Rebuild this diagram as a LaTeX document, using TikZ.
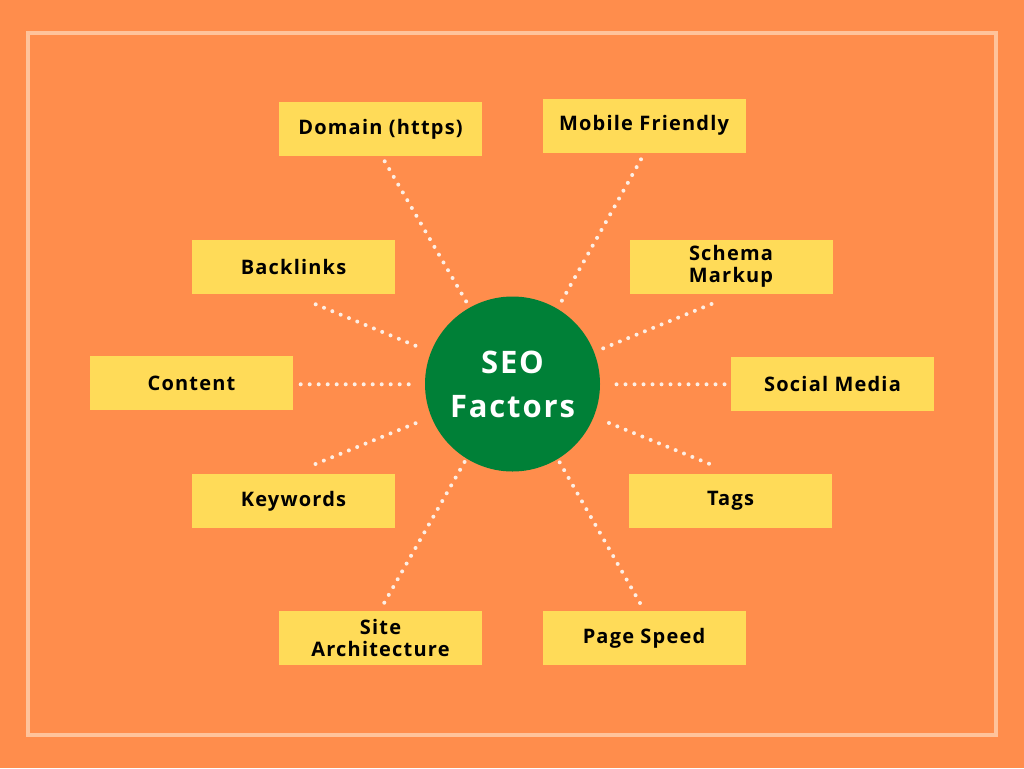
\documentclass[tikz,border=0pt]{standalone}
\usepackage{fontspec}
\setmainfont{Open Sans}[LetterSpace=6]
\definecolor{bgorange}{HTML}{FF8D4C}
\definecolor{frameline}{HTML}{FFC39B}
\definecolor{boxyellow}{HTML}{FFDB58}
\definecolor{seogreen}{HTML}{008037}
\definecolor{dotwhite}{HTML}{FDEEE4}
\tikzset{
  factor/.style={fill=boxyellow, minimum width=203pt, minimum height=54pt, inner sep=0pt,
    align=center, font=\bfseries\fontsize{20}{22}\selectfont, text=black},
  hub/.style={circle, fill=seogreen, minimum size=175pt, inner sep=0pt, align=center,
    text=white, font=\bfseries\fontsize{31}{44}\selectfont},
  dotline/.style={draw=dotwhite, line width=4pt, line cap=round, dash pattern=on 0pt off 9pt}
}
\begin{document}
\begin{tikzpicture}[x=1pt,y=-1pt]
\fill[bgorange] (0,0) rectangle (1024,768);
\useasboundingbox (0,0) rectangle (1024,768);
\draw[frameline, line width=4pt] (28.3,33.2) rectangle (995.7,734.8);

\node[hub] (seo) at (512.5,384) {SEO\\Factors};

\node[factor] (domain) at (380.5,129) {Domain (https)};
\node[factor] (mobile) at (644,125.5) {Mobile Friendly};
\node[factor] (backlinks) at (293.5,267) {Backlinks};
\node[factor] (schema) at (731,266.5) {Schema\\Markup};
\node[factor] (content) at (191.5,383) {Content};
\node[factor] (social) at (832.5,384) {Social Media};
\node[factor] (keywords) at (293.5,501) {Keywords};
\node[factor] (tags) at (730.5,501) {Tags};
\node[factor] (site) at (380.5,638) {Site\\Architecture};
\node[factor] (speed) at (644,638) {Page Speed};

\coordinate (cDomain) at (384.7,161.3);
\coordinate (cMobile) at (641,159.3);
\coordinate (cBacklinks) at (315.7,304.3);
\coordinate (cSchema) at (711.5,304);
\coordinate (cContent) at (300.7,384.3);
\coordinate (cSocial) at (724.5,384.3);
\coordinate (cKeywords) at (315.5,464);
\coordinate (cTags) at (709,463.7);
\coordinate (cSite) at (384.3,602.7);
\coordinate (cSpeed) at (640,603);

\coordinate (sDomain) at (466.3,301.7);
\coordinate (sMobile) at (561.7,301);
\coordinate (sBacklinks) at (421.7,348.3);
\coordinate (sSchema) at (601.5,349);
\coordinate (sContent) at (416,384.3);
\coordinate (sSocial) at (609,384.3);
\coordinate (sKeywords) at (423.5,420);
\coordinate (sTags) at (601.7,420);
\coordinate (sSite) at (464.7,461.7);
\coordinate (sSpeed) at (559.5,462);

\foreach \n in {Domain,Mobile,Backlinks,Schema,Content,Social,Keywords,Tags,Site,Speed}{
  \draw[dotline] (c\n) -- (s\n);
}
\end{tikzpicture}
\end{document}
